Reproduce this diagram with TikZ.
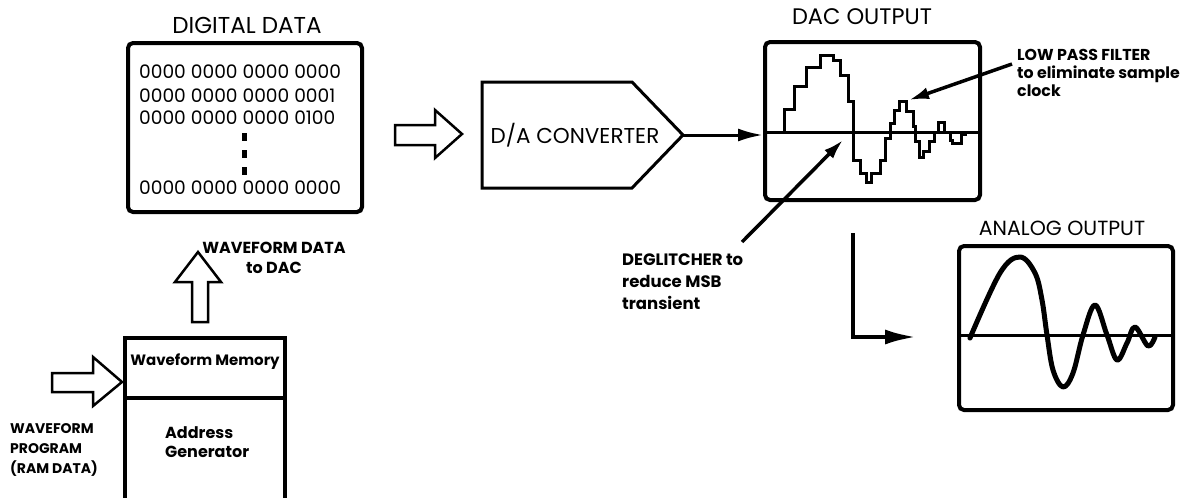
\documentclass[tikz,border=0pt]{standalone}
\usepackage{fontspec}
\setmainfont{Poppins}
\usetikzlibrary{arrows.meta,positioning}

\begin{document}
\begin{tikzpicture}[
    x=1pt,
    y=-1pt,
    >={Latex[length=20pt,width=12pt]},
    screen/.style={draw, line width=4pt, rounded corners=5pt, inner sep=0pt},
    hollow/.style={draw, line width=2.5pt, line join=miter},
    heading/.style={font=\fontsize{23}{25}\selectfont, inner sep=0pt},
    bits/.style={font=\fontsize{18.6}{20}\selectfont, inner sep=0pt, anchor=west},
    remark/.style={font=\bfseries\fontsize{16}{18}\selectfont, align=left, inner sep=0pt}
]

\useasboundingbox (0,0) rectangle (1192,498);

% Digital data
\node[screen, minimum width=234pt, minimum height=169pt] (databox) at (245,127.5) {};
\node[heading] (datatitle) at (247,25) {DIGITAL DATA};

\node[bits] (row1) at (139,72) {0000 0000 0000 0000};
\node[bits] (row2) at (139,96) {0000 0000 0000 0001};
\node[bits] (row3) at (139,118) {0000 0000 0000 0100};
\node[bits] (row4) at (139,188) {0000 0000 0000 0000};

\foreach \y in {137,154,171}
    \fill (242,\y-4) rectangle (246.5,\y+4);

% Waveform memory
\node[draw, line width=3.5pt, minimum width=160pt, minimum height=60pt, inner sep=0pt] (memory) at (205,368) {};
\node[draw, line width=3.5pt, minimum width=160pt, minimum height=102pt, inner sep=0pt, below=-3.5pt of memory] (addrgen) {};
\node[remark, font=\bfseries\fontsize{15}{18}\selectfont] (memtext) at (205,362) {Waveform Memory};
\node[remark, anchor=west, font=\bfseries\fontsize{16}{19}\selectfont] (addrtext) at (165,442) {Address\\Generator};

\node[remark, anchor=west, font=\bfseries\fontsize{14}{20}\selectfont] (progtext) at (10,450) {WAVEFORM\\PROGRAM\\(RAM DATA)};
\node[remark, align=center, font=\bfseries\fontsize{16}{20}\selectfont] (totext) at (274,258) {WAVEFORM DATA\\to DAC};

% Hollow arrows
\draw[hollow]
    (52,373) -- (93,373) -- (93,357) -- (122,382)
    -- (93,406) -- (93,392) -- (52,392) -- cycle;

\draw[hollow]
    (192,322) -- (192,282) -- (175,282) -- (198,252)
    -- (221,282) -- (208,282) -- (208,322) -- cycle;

\draw[hollow]
    (395,125) -- (435,125) -- (435,110) -- (462,134)
    -- (435,158) -- (435,145) -- (395,145) -- cycle;

% D/A converter
\draw[line width=3pt, line join=miter]
    (482,82) -- (632,82) -- (683,135) -- (632,188) -- (482,188) -- cycle;
\node[font=\fontsize{21.5}{24}\selectfont, inner sep=0pt] (conv) at (575,135) {D/A CONVERTER};
\coordinate (convtip) at (683,135);

% DAC output
\node[screen, minimum width=215pt, minimum height=158pt] (dacbox) at (872.5,121) {};
\node[heading, font=\fontsize{22.5}{25}\selectfont] (dactitle) at (862,17) {DAC OUTPUT};

\draw[->, line width=3pt, >={Latex[length=25pt,width=13pt]}]
    (convtip) -- (convtip -| dacbox.west);

\draw[line width=3pt]
    (765,132) -- (980,132);

\draw[line width=3pt, line join=miter]
    (784,132.3) |- (794,109) |- (806.7,86.7) |- (820,67.7) |- (833.3,55)
    |- (840,60) |- (848.3,75) |- (853.3,101.7) |- (860,160) |- (866.7,173.3)
    |- (871.7,182.3) |- (880,173.3) |- (885,160) |- (890,138.3) |- (894,123.3)
    |- (899.3,110) |- (906.7,101.7) |- (913.3,111.7) |- (915.7,126.7)
    |- (919.3,141.7) |- (923.3,157.7) |- (929.3,151) |- (934,141.7)
    |- (938.3,132.3) |- (944,122.3) |- (950,132.3) |- (952.7,140)
    |- (961.7,143.3) |- (966.7,134.3);

% Annotations
\node[remark, anchor=west, font=\bfseries\fontsize{15.8}{18}\selectfont] (lpftext) at (1017,73) {LOW PASS FILTER\\to eliminate sample\\clock};
\coordinate (lpftail) at (1012,64);
\coordinate (lpftip) at (909,100);
\draw[->, line width=3.5pt] (lpftail) -- (lpftip);

\node[remark, anchor=west, font=\bfseries\fontsize{16.5}{22}\selectfont] (deglitch) at (622,282) {DEGLITCHER to\\reduce MSB\\transient};
\coordinate (degtail) at (742,242);
\coordinate (degtip) at (843,140);
\draw[->, line width=3.5pt] (degtail) -- (degtip);

% Analog output
\node[screen, minimum width=214pt, minimum height=164pt] (anabox) at (1066,328) {};
\node[heading, font=\fontsize{20.5}{25}\selectfont] (anatitle) at (1062,228) {ANALOG OUTPUT};

\coordinate (bendtop) at (853,233);
\coordinate (bendend) at (917,337);
\draw[line width=4.5pt, -{Latex[length=32pt,width=15pt]}] (bendtop) |- (bendend);

\draw[line width=3pt]
    (959,335) -- (1173,335);

\draw[line width=5pt, line cap=round, line join=round]
    plot[smooth, tension=0.6] coordinates {
    (970,338) (1000,273) (1020,257) (1035,273) (1042,300) (1047,335)
    (1053,370) (1063,387) (1073,373) (1083,335) (1095,305) (1107,335)
    (1117,360) (1127,343) (1135,327) (1148,346) (1155,337)};

\end{tikzpicture}
\end{document}
